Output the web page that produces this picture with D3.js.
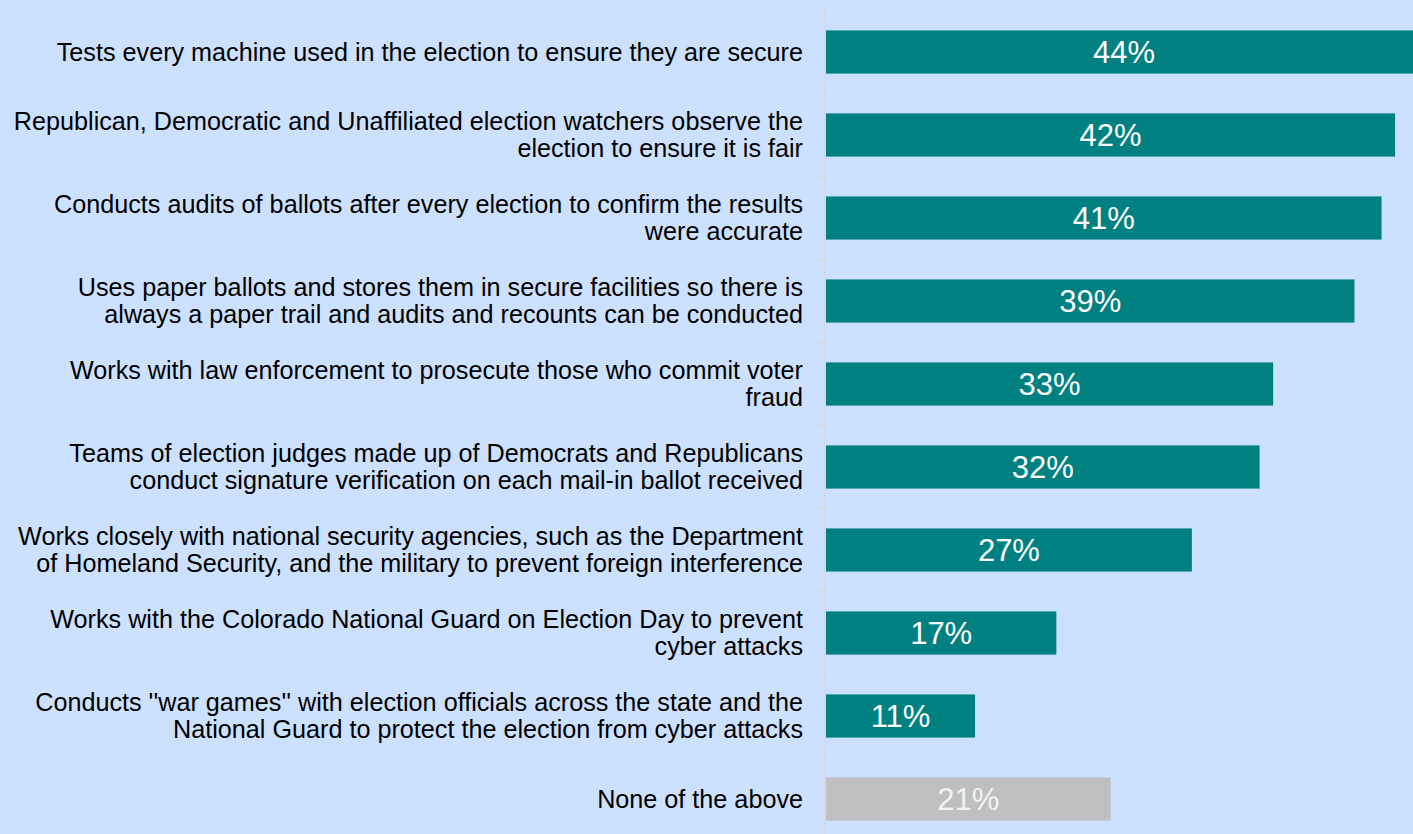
<!DOCTYPE html>
<html>
<head>
<meta charset="utf-8">
<script src="https://cdn.jsdelivr.net/npm/d3@7"></script>
<style>
  html, body { margin: 0; padding: 0; background: #cce0ff; }
  svg { display: block; }
</style>
</head>
<body>
<script>
// Survey items (line breaks follow the printed wrapping)
const categories = [
  "Tests every machine used in the election to ensure they are secure",
  "Republican, Democratic and Unaffiliated election watchers observe the\nelection to ensure it is fair",
  "Conducts audits of ballots after every election to confirm the results\nwere accurate",
  "Uses paper ballots and stores them in secure facilities so there is\nalways a paper trail and audits and recounts can be conducted",
  "Works with law enforcement to prosecute those who commit voter\nfraud",
  "Teams of election judges made up of Democrats and Republicans\nconduct signature verification on each mail-in ballot received",
  "Works closely with national security agencies, such as the Department\nof Homeland Security, and the military to prevent foreign interference",
  "Works with the Colorado National Guard on Election Day to prevent\ncyber attacks",
  "Conducts ''war games'' with election officials across the state and the\nNational Guard to protect the election from cyber attacks",
  "None of the above"
];
const values = [44, 42, 41, 39, 33, 32, 27, 17, 11, 21];
const isOther = [false, false, false, false, false, false, false, false, false, true];

const W = 1413, H = 834;
const axisX = 825;

const svg = d3.select("body").append("svg")
  .attr("width", W).attr("height", H);

svg.append("rect").attr("width", W).attr("height", H).attr("fill", "#cce0ff");

const y = d3.scaleBand()
  .domain(categories)
  .range([10.5, 10.5 + 83 * categories.length])
  .paddingInner(0.48)
  .paddingOuter(0.24);

const x = d3.scaleLinear()
  .domain([0, 100])
  .range([axisX + 1, axisX + 1 + 1355]);

const step = y.step();

// Category axis: vertical line with ticks between bands
svg.append("line")
  .attr("x1", axisX).attr("x2", axisX)
  .attr("y1", 10.5).attr("y2", H)
  .attr("stroke", "#d9d9d9").attr("stroke-width", 1.5);

const boundaries = d3.range(categories.length + 1).map(i => y.range()[0] + i * step);
svg.selectAll("line.tick").data(boundaries).join("line")
  .attr("class", "tick")
  .attr("x1", axisX - 7).attr("x2", axisX)
  .attr("y1", d => d).attr("y2", d => d)
  .attr("stroke", "#d9d9d9").attr("stroke-width", 1.5);

// Bars
svg.selectAll("rect.bar").data(categories).join("rect")
  .attr("class", "bar")
  .attr("x", x(0))
  .attr("y", d => y(d))
  .attr("width", (d, i) => x(values[i]) - x(0))
  .attr("height", y.bandwidth())
  .attr("fill", (d, i) => isOther[i] ? "#bfbfbf" : "#008080");

// Value labels centered in bars
svg.selectAll("text.val").data(categories).join("text")
  .attr("class", "val")
  .attr("x", (d, i) => (x(0) + x(values[i])) / 2)
  .attr("y", d => y(d) + y.bandwidth() / 2 + 11.3)
  .attr("text-anchor", "middle")
  .attr("font-family", "Liberation Sans, Arial, sans-serif")
  .attr("font-size", 31)
  .attr("fill", (d, i) => isOther[i] ? "#f2f2f2" : "#ffffff")
  .text((d, i) => values[i] + "%");

// Category labels, right-aligned left of the axis
const lineH = 27.3;
const labels = svg.selectAll("text.cat").data(categories).join("text")
  .attr("class", "cat")
  .attr("text-anchor", "end")
  .attr("font-family", "Liberation Sans, Arial, sans-serif")
  .attr("font-size", 25.2)
  .attr("fill", "#000000");

labels.each(function(d) {
  const lines = d.split("\n");
  const cy = y(d) + y.bandwidth() / 2;
  const first = cy - (lines.length - 1) * lineH / 2 + 8.5;
  d3.select(this).selectAll("tspan").data(lines).join("tspan")
    .attr("x", 803)
    .attr("y", (l, j) => first + j * lineH)
    .text(l => l);
});
</script>
</body>
</html>
